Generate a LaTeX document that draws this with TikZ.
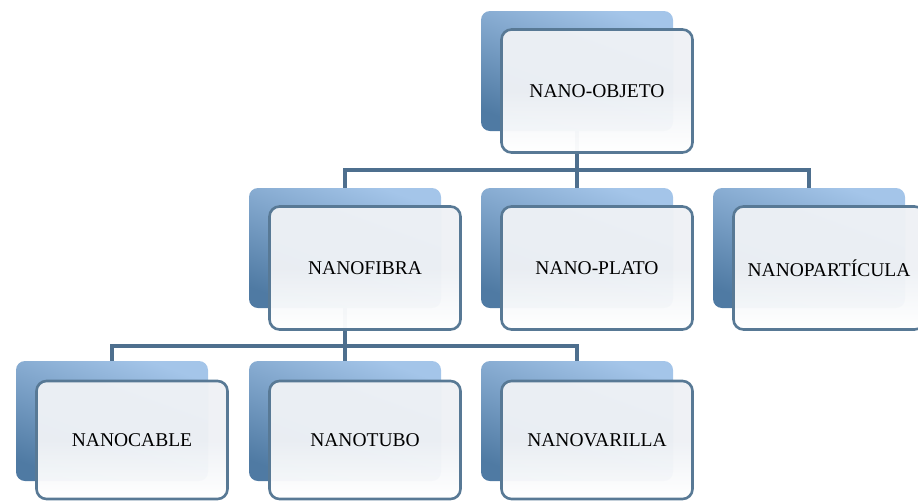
\documentclass[tikz,border=0pt]{standalone}
\usepackage{fontspec}
\setmainfont{Liberation Serif}
\usetikzlibrary{backgrounds}
\definecolor{celeste}{HTML}{A4C5E9}
\definecolor{azuloscuro}{HTML}{4F7AA3}
\definecolor{borde}{HTML}{587995}
\definecolor{pizarra}{HTML}{4E6F8E}
\definecolor{papel}{HTML}{EEF1F5}

\begin{document}
\begin{tikzpicture}[x=1pt,y=-1pt,
      fondo/.style={rounded corners=9pt,minimum width=192pt,minimum height=120pt,
                    inner sep=0pt,top color=celeste,bottom color=azuloscuro,
                    shading angle=-20},
      frente/.style={draw=borde,line width=2.6pt,rounded corners=10pt,
                     minimum width=191pt,minimum height=123pt,inner sep=0pt,
                     top color=papel,bottom color=white,middle color=papel,
                     fill opacity=0.97,text opacity=1,
                     font=\fontsize{19.5}{22}\selectfont},
      rama/.style={draw=pizarra,line width=3.4pt}]
    \clip (0,0) rectangle (918,501);
    % nivel 1
    \node[fondo] (obj) at (577,71) {};
    \node[frente] (obj-t) at ([shift={(20,20)}]obj.center) {NANO-OBJETO};
    % nivel 2
    \node[fondo] (fib) at (345,248) {};
    \node[frente] (fib-t) at ([shift={(20,20)}]fib.center) {NANOFIBRA};
    \node[fondo] (pla) at (577,248) {};
    \node[frente] (pla-t) at ([shift={(20,20)}]pla.center) {NANO-PLATO};
    \node[fondo] (par) at (809,248) {};
    \node[frente] (par-t) at ([shift={(20,20)}]par.center) {NANOPARTÍCULA};
    % nivel 3
    \node[fondo] (cab) at (112,421) {};
    \node[frente,minimum height=118pt] (cab-t) at ([shift={(20,19)}]cab.center) {NANOCABLE};
    \node[fondo] (tub) at (345,421) {};
    \node[frente,minimum height=118pt] (tub-t) at ([shift={(20,19)}]tub.center) {NANOTUBO};
    \node[fondo] (var) at (577,421) {};
    \node[frente,minimum height=118pt] (var-t) at ([shift={(20,19)}]var.center) {NANOVARILLA};
    \coordinate (c1) at (577,170);
    \coordinate (c2) at (345,346);
    \begin{scope}[on background layer]
      \foreach \h in {fib,pla,par} \draw[rama] (obj.center) -- (c1) -| (\h.center);
      \foreach \h in {cab,tub,var} \draw[rama] (fib.center) -- (c2) -| (\h.center);
    \end{scope}
  \end{tikzpicture}
\end{document}
